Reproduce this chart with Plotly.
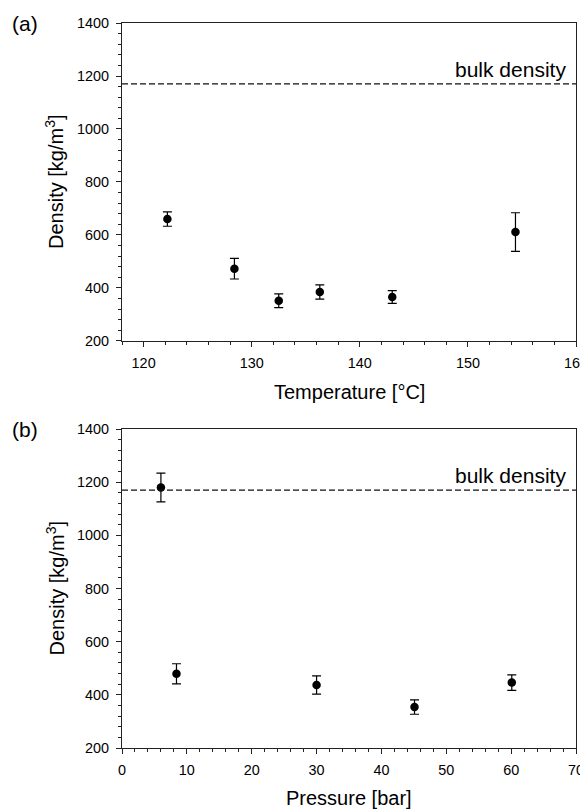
import plotly.graph_objects as go

# Panel (a): density vs temperature
temp_c = [122.2, 128.4, 132.5, 136.3, 143.0, 154.4]
dens_a = [660, 473, 352, 385, 366, 611]
err_a = [27, 39, 26, 27, 24, 73]

# Panel (b): density vs pressure
press_bar = [6.0, 8.4, 30.0, 45.1, 60.1]
dens_b = [1180, 479, 437, 354, 446]
err_b = [54, 38, 34, 27, 29]

bulk_density = 1170
x_ticks_a = [120, 130, 140, 150, 160]
x_ticks_b = [0, 10, 20, 30, 40, 50, 60, 70]
y_ticks = [200, 400, 600, 800, 1000, 1200, 1400]

FONT = "Liberation Sans, Arial, sans-serif"

fig = go.Figure()
fig.add_trace(go.Scatter(
    x=temp_c, y=dens_a, mode="markers", xaxis="x", yaxis="y",
    marker=dict(size=8.5, color="black"),
    error_y=dict(type="data", array=err_a, color="black", thickness=1.2, width=4.5),
    showlegend=False))
fig.add_trace(go.Scatter(
    x=press_bar, y=dens_b, mode="markers", xaxis="x2", yaxis="y2",
    marker=dict(size=8.5, color="black"),
    error_y=dict(type="data", array=err_b, color="black", thickness=1.2, width=4.5),
    showlegend=False))

axis_common = dict(showline=True, linecolor="#222", linewidth=1.2, mirror=True,
                   ticks="outside", ticklen=5, tickwidth=1.1, tickcolor="#222",
                   showgrid=False, zeroline=False, automargin=False,
                   ticklabeloverflow="allow",
                   tickfont=dict(family=FONT, size=14.4, color="black"),
                   ticklabelstandoff=4)

# the page body adds an 8px offset, so the figure is shifted by 8px
fig.update_layout(
    template="none",
    width=580, height=801,
    margin=dict(l=114, r=12, t=15, b=61, autoexpand=False),
    paper_bgcolor="white", plot_bgcolor="white",
    xaxis=dict(domain=[0, 1], anchor="y", range=[118, 160], tickvals=x_ticks_a,
               minor=dict(dtick=2, ticks="outside", ticklen=3, tickcolor="#222"),
               **axis_common),
    yaxis=dict(domain=[0.5614, 1], anchor="x", range=[200, 1400], tickvals=y_ticks,
               minor=dict(dtick=40, ticks="outside", ticklen=3, tickcolor="#222"),
               **axis_common),
    xaxis2=dict(domain=[0, 1], anchor="y2", range=[0, 70], tickvals=x_ticks_b,
                minor=dict(dtick=2, ticks="outside", ticklen=3, tickcolor="#222"),
                **axis_common),
    yaxis2=dict(domain=[0, 0.44], anchor="x2", range=[200, 1400], tickvals=y_ticks,
                minor=dict(dtick=40, ticks="outside", ticklen=3, tickcolor="#222"),
                **axis_common),
)

for xa, ya in [("x", "y"), ("x2", "y2")]:
    fig.add_shape(type="line", xref=f"{xa} domain", yref=ya, x0=0, x1=1,
                  y0=bulk_density, y1=bulk_density,
                  line=dict(color="#111", width=1.2, dash="6px,3px"))
    fig.add_annotation(text="bulk density", xref=f"{xa} domain", yref=ya, x=1, y=bulk_density,
                       xanchor="right", yanchor="bottom", xshift=-8, yshift=1, showarrow=False,
                       font=dict(family=FONT, size=21, color="black"))
    fig.add_annotation(text="Density [kg/m<sup>3</sup>]", xref=f"{xa} domain", yref=f"{ya} domain",
                       x=0, y=0.5, xshift=-67, textangle=-90, showarrow=False,
                       xanchor="center", yanchor="middle",
                       font=dict(family=FONT, size=20, color="black"))

fig.add_annotation(text="Temperature [°C]", xref="x domain", yref="y domain", x=0.5, y=0,
                   yshift=-51, showarrow=False, yanchor="middle",
                   font=dict(family=FONT, size=20, color="black"))
fig.add_annotation(text="Pressure [bar]", xref="x2 domain", yref="y2 domain", x=0.5, y=0,
                   yshift=-50, showarrow=False, yanchor="middle",
                   font=dict(family=FONT, size=20, color="black"))
fig.add_annotation(text="(a)", xref="x domain", yref="y domain", x=0, y=1, xshift=-112,
                   xanchor="left", yanchor="middle", showarrow=False,
                   font=dict(family=FONT, size=21, color="black"))
fig.add_annotation(text="(b)", xref="x2 domain", yref="y2 domain", x=0, y=1, xshift=-112,
                   xanchor="left", yanchor="middle", showarrow=False,
                   font=dict(family=FONT, size=21, color="black"))

fig.write_html("out.html")
